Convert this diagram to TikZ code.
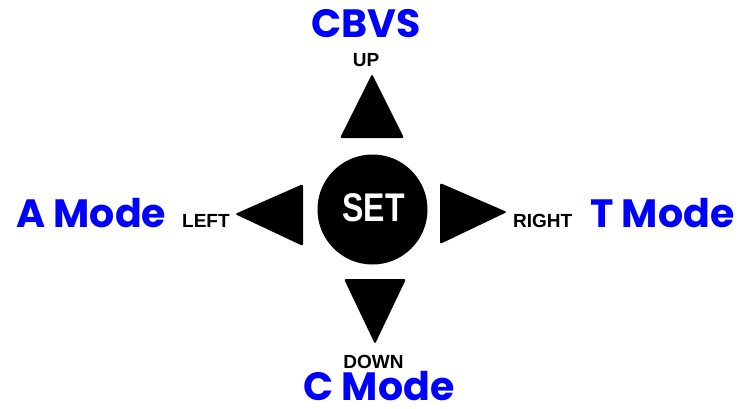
\documentclass[tikz,border=0pt]{standalone}
\usepackage{fontspec}
\setmainfont{Liberation Sans}
\newfontfamily\modefont{Poppins}
\newfontfamily\setfont[FakeStretch=0.8]{Liberation Sans}
\definecolor{modecolor}{RGB}{0,0,255}
\colorlet{keycolor}{black}
\colorlet{labelcolor}{black}
\usetikzlibrary{
  shapes,
}

\begin{document}
\begin{tikzpicture}[x=1pt,y=-1pt]
	\tikzstyle{every node}=[inner sep=0pt]
	\tikzstyle{mode}=[font=\modefont\bfseries\fontsize{39.5}{39.5}\selectfont, text=modecolor]
	\tikzstyle{key}=[font=\bfseries\fontsize{19}{19}\selectfont, text=labelcolor]
	\tikzstyle{arrowkey}=[fill=keycolor, rounded corners=2pt]
	\useasboundingbox (0,0) rectangle (740,408);
	% centre button
	\node (setkey)[shape=circle, fill=keycolor, minimum size=110pt] at (372.5,209.5) {};
	\node (settext)[text=white, font=\setfont\bfseries\fontsize{40}{40}\selectfont] at (373.5,207.5) {SET};
	% arrow keys
	\fill[arrowkey] (372,74) -- (404,138) -- (340,138) -- cycle;
	\fill[arrowkey] (344,279) -- (406,279) -- (375,344) -- cycle;
	\fill[arrowkey] (303,184) -- (303,246) -- (235,214) -- cycle;
	\fill[arrowkey] (440,183) -- (507,212) -- (440,244) -- cycle;
	% key names
	\node (up)[key, anchor=base] at (366,66) {UP};
	\node (down)[key, anchor=base] at (373.5,368) {DOWN};
	\node (left)[key, anchor=base west] at (182,227) {LEFT};
	\node (right)[key, anchor=base west] at (513,227) {RIGHT};
	% modes
	\node (cbvs)[mode, anchor=base] at (366,37) {CBVS};
	\node (cmode)[mode, anchor=base] at (379,400) {C Mode};
	\node (amode)[mode, anchor=base west] at (16,227) {A Mode};
	\node (tmode)[mode, anchor=base west] at (590,227) {T Mode};
\end{tikzpicture}
\end{document}
